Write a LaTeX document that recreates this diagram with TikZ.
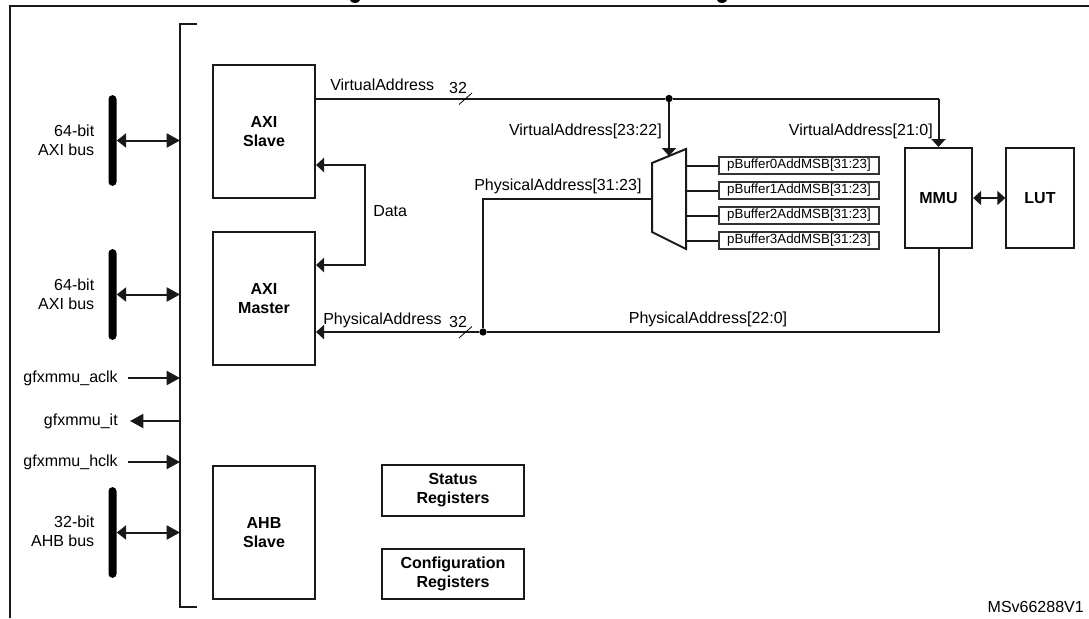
\documentclass[tikz,border=0pt]{standalone}
\usepackage{fontspec}
\setmainfont{Liberation Sans}
\usetikzlibrary{arrows.meta}

\begin{document}
\begin{tikzpicture}[x=0.75pt, y=-0.75pt,
                    every node/.style={font=\fontsize{12}{14.25}\selectfont, inner sep=0pt, align=center},
                    wire/.style={draw=black!90, line width=1.5pt},
                    endtip/.style={-{Triangle[length=10pt,width=10.5pt]}},
                    busboth/.style={{Triangle[length=7pt,width=10.5pt]}-{Triangle[length=10pt,width=10.5pt]}},
                    smalltip/.style={-{Triangle[length=6pt,width=10.5pt]}},
                    smallboth/.style={{Triangle[length=6pt,width=10.5pt]}-{Triangle[length=6pt,width=10.5pt]}},
                    blockbox/.style={draw=black!90, line width=1.5pt, font=\fontsize{12}{14.25}\selectfont\bfseries},
                    tallbox/.style={blockbox, minimum width=76.5pt, minimum height=100pt},
                    mmubox/.style={blockbox, minimum width=50.5pt, minimum height=75pt},
                    regbox/.style={blockbox, minimum width=106.5pt, minimum height=38pt},
                    bufbox/.style={draw=black!80, line width=0.8pt, minimum width=120pt, minimum height=12.75pt, font=\fontsize{10}{12}\selectfont},
                    busbar/.style={fill=black, rounded corners=2.9pt, minimum width=6pt, minimum height=68pt},
                    junction/.style={circle, fill=black, minimum size=5.5pt}]

    \useasboundingbox (0,0) rectangle (1089,618);

    % Outer frame, open on the right and at the bottom
    \coordinate (frameTop) at (1089,5.5);
    \coordinate (frameCorner) at (10,5.5);
    \coordinate (frameBottom) at (10,618);
    \draw[wire] (frameTop) -- (frameCorner) -- (frameBottom);

    % What is left of the cut off caption
    \fill (350,0) .. controls (351,4) and (359,4) .. (360,0) -- cycle;
    \fill (717,0) .. controls (718,4) and (726,4) .. (727,0) -- cycle;

    % Bracket
    \coordinate (brTop) at (197,23.5);
    \coordinate (brTopIn) at (180,23.5);
    \coordinate (brBotIn) at (180,607);
    \coordinate (brBot) at (197,607);
    \draw[wire] (brTop) -- (brTopIn) -- (brBotIn) -- (brBot);

    % Blocks
    \node[tallbox] (axiSlave) at (264,131.5) {AXI\\Slave};
    \node[tallbox] (axiMaster) at (264,298.5) {AXI\\Master};
    \node[tallbox] (ahbSlave) at (264,532.5) {AHB\\Slave};
    \node[regbox] (statusReg) at (453,490.5) {Status\\Registers};
    \node[regbox] (configReg) at (453,574) {Configuration\\Registers};
    \node[mmubox] (mmu) at (938.5,198) {MMU};
    \node[mmubox] (lut) at (1040,198) {LUT};

    % Buses on the left
    \node[busbar] (busA) at (112.5,140.5) {};
    \node[busbar] (busB) at (112.5,294.5) {};
    \node[busbar] (busC) at (112.5,532.5) {};
    \coordinate (busAin) at (180,140.5);
    \coordinate (busBin) at (180,294.5);
    \coordinate (busCin) at (180,532.5);
    \draw[wire, busboth] (busA.east) -- (busAin);
    \draw[wire, busboth] (busB.east) -- (busBin);
    \draw[wire, busboth] (busC.east) -- (busCin);
    \node[anchor=east, align=right] (busAtext) at (94.5,140) {64-bit\\AXI bus};
    \node[anchor=east, align=right] (busBtext) at (94.5,294.5) {64-bit\\AXI bus};
    \node[anchor=east, align=right] (busCtext) at (94.5,531.5) {32-bit\\AHB bus};

    % Signals on the left
    \node[anchor=east] (aclk) at (118,378) {gfxmmu\_aclk};
    \node[anchor=east] (itr) at (118,421) {gfxmmu\_it};
    \node[anchor=east] (hclk) at (118,462) {gfxmmu\_hclk};
    \coordinate (aclkIn) at (180,378);
    \coordinate (itrIn) at (180,421);
    \coordinate (hclkIn) at (180,462);
    \draw[wire, endtip] ([xshift=7.5pt]aclk.east) -- (aclkIn);
    \draw[wire, endtip] (itrIn) -- ([xshift=9pt]itr.east);
    \draw[wire, endtip] ([xshift=7.5pt]hclk.east) -- (hclkIn);

    % Mux outline
    \coordinate (muxNE) at (686,149);
    \coordinate (muxNW) at (652,163);
    \coordinate (muxSW) at (652,232);
    \coordinate (muxSE) at (686,249);
    \coordinate (muxIn) at (669,156);
    \coordinate (muxOut) at (652,198.7);
    \draw[wire, line join=miter] (muxNE) -- (muxNW) -- (muxSW) -- (muxSE) -- cycle;

    % Buffer registers and their wires
    \foreach \i/\ypos in {0/165.5, 1/190.5, 2/215.5, 3/240.5} {
        \node[bufbox] (buf\i) at (799,\ypos) {pBuffer\i AddMSB[31:23]};
        \coordinate (muxPort\i) at (686,\ypos);
        \draw[wire] (muxPort\i) -- (buf\i.west);
    }

    % Virtual address
    \node[junction] (dotV) at (669,98.5) {};
    \coordinate (mmuVturn) at (mmu.north |- dotV);
    \draw[wire] (axiSlave.east |- dotV) -- (dotV) -- (mmuVturn);
    \draw[wire, smalltip] (mmuVturn) -- (mmu.north);
    \draw[wire, smalltip] (dotV) -- (muxIn);
    \node[anchor=west] (vaText) at (330,85) {VirtualAddress};
    \node[anchor=east] (vaHigh) at (662,131) {VirtualAddress[23:22]};
    \node[anchor=east] (vaLow) at (933,131) {VirtualAddress[21:0]};

    % Physical address
    \node[junction] (dotP) at (483,332) {};
    \coordinate (mmuPturn) at (mmu.south |- dotP);
    \coordinate (paTurn) at (483,198.7);
    \draw[wire] (mmu.south) -- (mmuPturn) -- (dotP);
    \draw[wire, smalltip] (dotP) -- (axiMaster.east |- dotP);
    \draw[wire] (dotP) -- (paTurn) -- (muxOut);
    \node[anchor=west] (paText) at (323,320) {PhysicalAddress};
    \node[anchor=west] (paHigh) at (474,186) {PhysicalAddress[31:23]};
    \node (paLow) at (708,319) {PhysicalAddress[22:0]};

    % Bus width marks
    \foreach \name/\ypos in {markV/98.5, markP/332} {
        \coordinate (\name) at (465.5,\ypos);
        \draw[line width=0.6pt] ([shift={(-6.5,6)}]\name) -- ([shift={(6.5,-5.5)}]\name);
        \node (\name Text) at (458,\ypos-10.5) {32};
    }

    % Data path
    \coordinate (dataTop) at (365,165);
    \coordinate (dataBot) at (365,265);
    \draw[wire, smallboth] (axiSlave.east |- dataTop) -- (dataTop) -- (dataBot) -- (axiMaster.east |- dataBot);
    \node[anchor=west] (dataText) at (373,211) {Data};

    % MMU to LUT
    \draw[wire, smallboth] (mmu.east) -- (lut.west);

    % Figure reference
    \node[anchor=east] (figRef) at (1084,607) {MSv66288V1};
\end{tikzpicture}
\end{document}
